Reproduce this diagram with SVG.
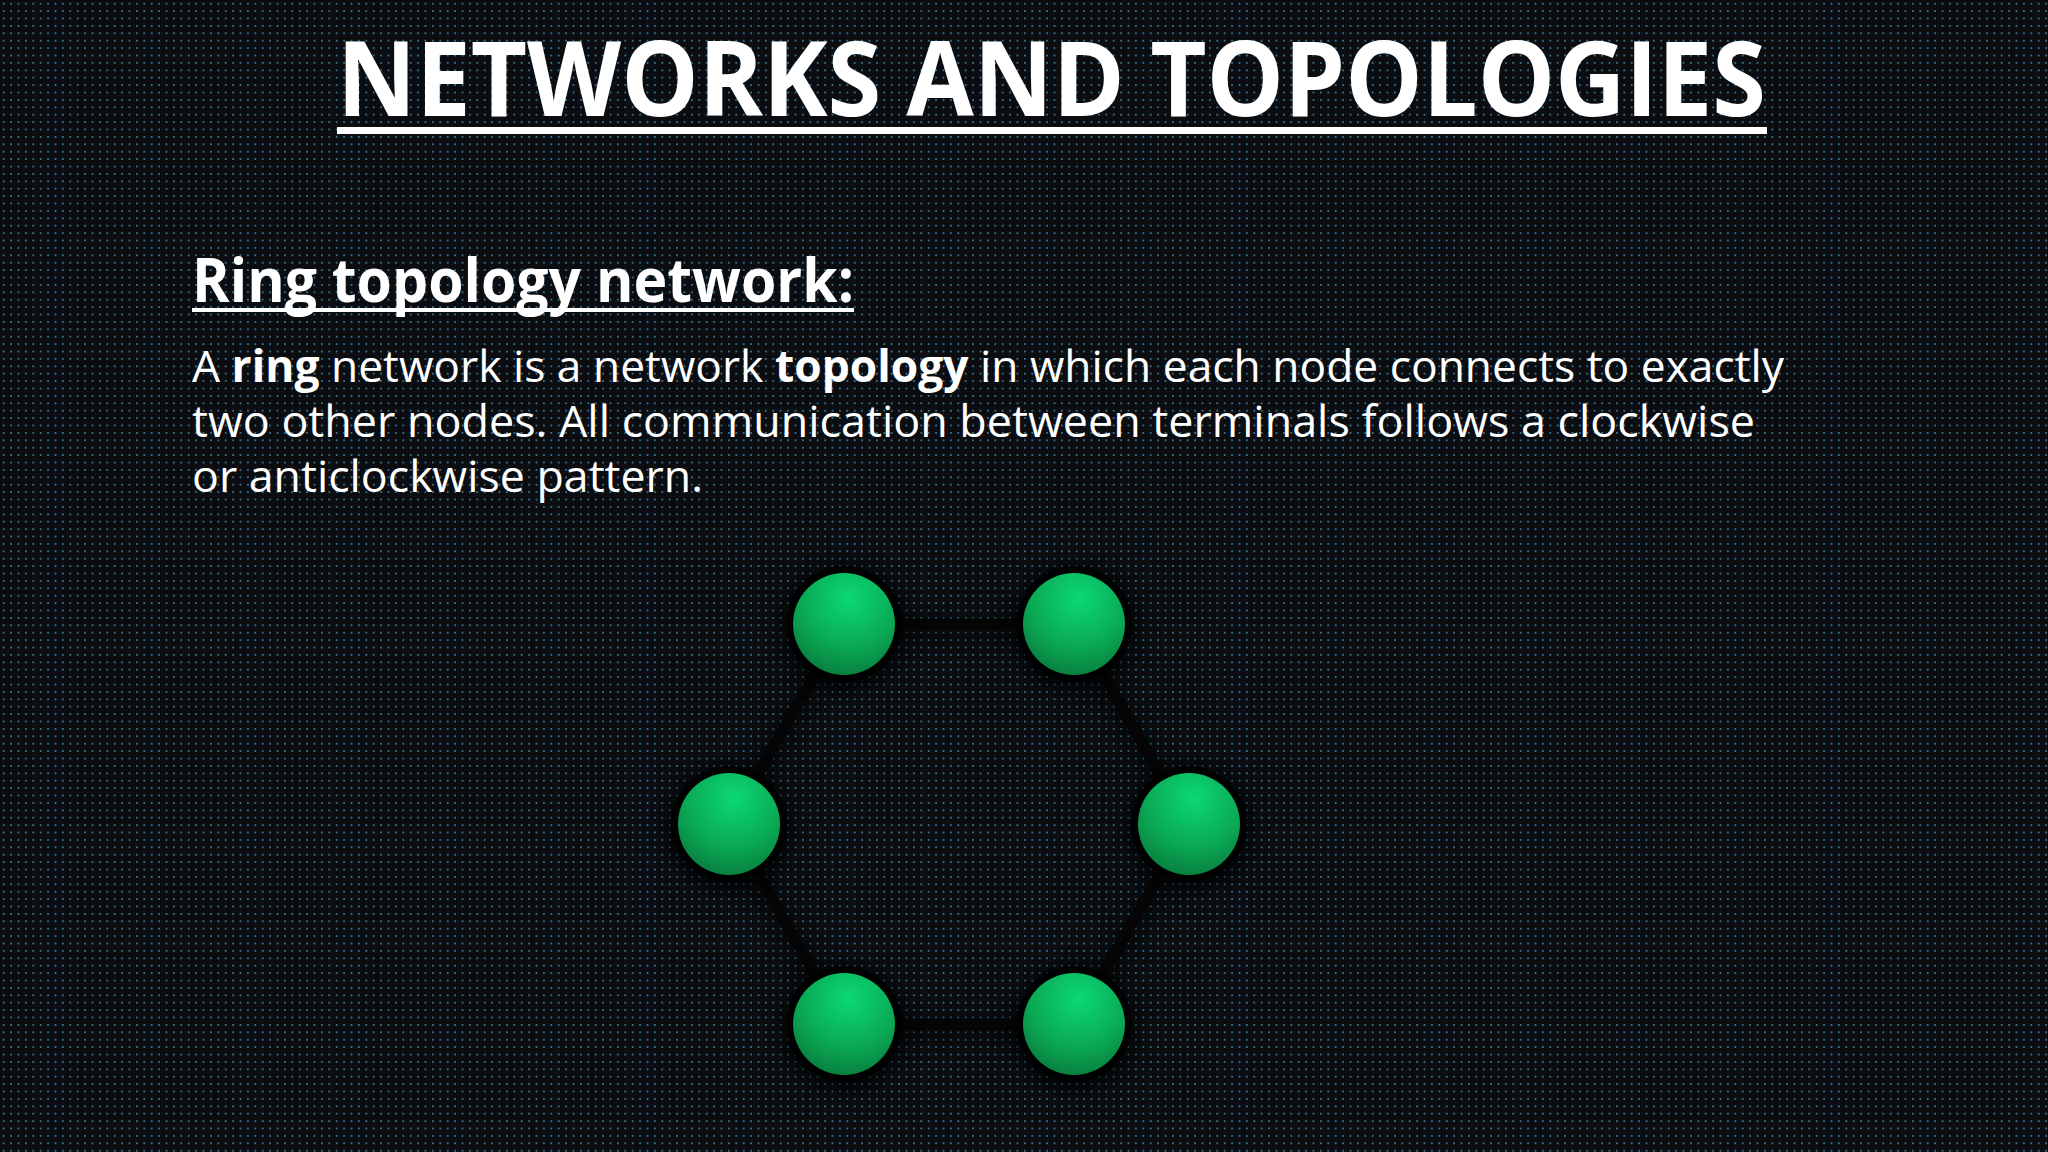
<svg xmlns="http://www.w3.org/2000/svg" width="2048" height="1152" viewBox="0 0 2048 1152">
<defs>
<pattern id="dots" width="7.4" height="7.4" patternUnits="userSpaceOnUse">
<rect width="7.4" height="7.4" fill="#0b0d10"/>
<circle cx="3.7" cy="3.7" r="1" fill="#3c86a8"/>
</pattern>
<radialGradient id="ball" cx="0.55" cy="0.25" r="0.8">
<stop offset="0" stop-color="#0bd877"/>
<stop offset="0.6" stop-color="#0aa854"/>
<stop offset="1" stop-color="#087a3c"/>
</radialGradient>
<filter id="sh" x="-50%" y="-50%" width="200%" height="200%"><feGaussianBlur stdDeviation="8"/></filter>
<style>
.t{font-family:"Open Sans","Liberation Sans",sans-serif;fill:#fff}
.e{stroke:#050505;stroke-width:11}
.ring{fill:#000;opacity:0.85}
</style>
</defs>
<rect width="2048" height="1152" fill="url(#dots)"/>
<text class="t" x="337" y="116" font-size="104" font-weight="bold" textLength="1429" lengthAdjust="spacingAndGlyphs">NETWORKS AND TOPOLOGIES</text>
<rect x="337" y="127" width="1430" height="7" fill="#fff"/>
<text class="t" x="192" y="302" font-size="60" font-weight="bold" textLength="662" lengthAdjust="spacingAndGlyphs">Ring topology network:</text>
<rect x="192" y="308" width="662" height="4" fill="#fff"/>
<text class="t" font-size="44">
<tspan x="192" y="382" textLength="1592" lengthAdjust="spacingAndGlyphs">A <tspan font-weight="bold">ring</tspan> network is a network <tspan font-weight="bold">topology</tspan> in which each node connects to exactly</tspan>
<tspan x="192" y="437" textLength="1563" lengthAdjust="spacingAndGlyphs">two other nodes. All communication between terminals follows a clockwise</tspan>
<tspan x="192" y="492" textLength="511" lengthAdjust="spacingAndGlyphs">or anticlockwise pattern.</tspan>
</text>
<g id="connectors">
<g stroke="#000" stroke-width="24" opacity="0.35" filter="url(#sh)" fill="none"><polygon points="844,630 1074,630 1189,830 1074,1030 844,1030 729,830"/></g>
<polygon class="e" fill="none" points="844,624 1074,624 1189,824 1074,1024 844,1024 729,824"/>
</g>
<g id="n1"><circle cx="844" cy="628" r="64" fill="#000" opacity="0.6" filter="url(#sh)"/><circle cx="844" cy="624" r="58" class="ring"/><circle cx="844" cy="624" r="51" fill="url(#ball)"/></g>
<g id="n2"><circle cx="1074" cy="628" r="64" fill="#000" opacity="0.6" filter="url(#sh)"/><circle cx="1074" cy="624" r="58" class="ring"/><circle cx="1074" cy="624" r="51" fill="url(#ball)"/></g>
<g id="n3"><circle cx="729" cy="828" r="64" fill="#000" opacity="0.6" filter="url(#sh)"/><circle cx="729" cy="824" r="58" class="ring"/><circle cx="729" cy="824" r="51" fill="url(#ball)"/></g>
<g id="n4"><circle cx="1189" cy="828" r="64" fill="#000" opacity="0.6" filter="url(#sh)"/><circle cx="1189" cy="824" r="58" class="ring"/><circle cx="1189" cy="824" r="51" fill="url(#ball)"/></g>
<g id="n5"><circle cx="844" cy="1028" r="64" fill="#000" opacity="0.6" filter="url(#sh)"/><circle cx="844" cy="1024" r="58" class="ring"/><circle cx="844" cy="1024" r="51" fill="url(#ball)"/></g>
<g id="n6"><circle cx="1074" cy="1028" r="64" fill="#000" opacity="0.6" filter="url(#sh)"/><circle cx="1074" cy="1024" r="58" class="ring"/><circle cx="1074" cy="1024" r="51" fill="url(#ball)"/></g>
</svg>
